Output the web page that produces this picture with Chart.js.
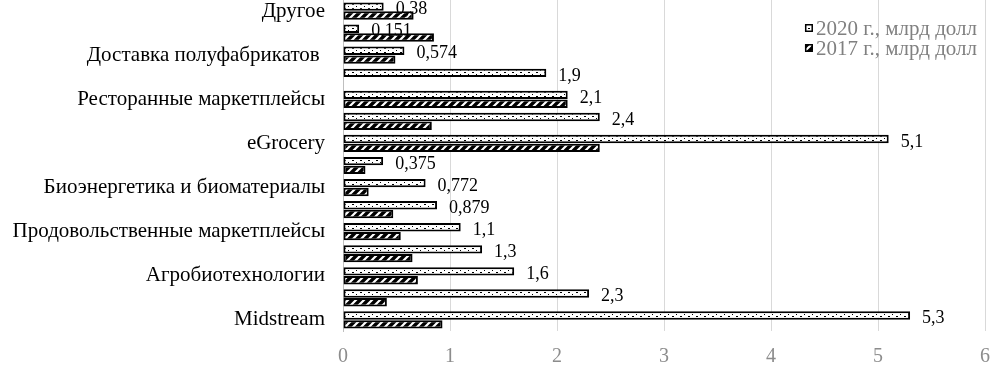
<!DOCTYPE html>
<html>
<head>
<meta charset="utf-8">
<script src="https://cdn.jsdelivr.net/npm/chart.js@4"></script>
<style>
    html, body { margin: 0; padding: 0; background: #fff; }
    #wrap { width: 1002px; height: 370px; }
</style>
</head>
<body>
<div id="wrap"><canvas id="chart" width="1002" height="370"></canvas></div>
<script>
// data ===================================
const categories = [
    'Другое', '', 'Доставка полуфабрикатов ', '', 'Ресторанные маркетплейсы', '',
    'eGrocery', '', 'Биоэнергетика и биоматериалы', '', 'Продовольственные маркетплейсы', '',
    'Агробиотехнологии', '', 'Midstream'
];
const values2020 = [0.38, 0.151, 0.574, 1.9, 2.1, 2.4, 5.1, 0.375, 0.772, 0.879, 1.1, 1.3, 1.6, 2.3, 5.3];
const values2017 = [0.66, 0.85, 0.49, null, 2.1, 0.83, 2.4, 0.21, 0.24, 0.47, 0.54, 0.65, 0.70, 0.41, 0.93];
const labels2020 = ['0,38', '0,151', '0,574', '1,9', '2,1', '2,4', '5,1', '0,375', '0,772', '0,879', '1,1', '1,3', '1,6', '2,3', '5,3'];
const seriesNames = ['2020 г., млрд долл', '2017 г., млрд долл'];
const xTicks = [0, 1, 2, 3, 4, 5, 6];

const FONT = '"Liberation Serif", "Times New Roman", serif';

// patterns
function dotPattern() {
    const c = document.createElement('canvas');
    c.width = 8; c.height = 4;
    const g = c.getContext('2d');
    g.fillStyle = '#fff';
    g.fillRect(0, 0, 8, 4);
    g.fillStyle = '#000';
    g.fillRect(0, 0, 2, 1);
    g.fillRect(4, 2, 1, 1);
    return g.createPattern(c, 'repeat');
}

function hatchPattern() {
    const c = document.createElement('canvas');
    c.width = 8; c.height = 8;
    const g = c.getContext('2d');
    g.fillStyle = '#000';
    g.fillRect(0, 0, 8, 8);
    g.strokeStyle = '#fff';
    g.lineWidth = 2.2;
    g.beginPath();
    g.moveTo(-1, 9); g.lineTo(9, -1);
    g.moveTo(-2, 2); g.lineTo(2, -2);
    g.moveTo(6, 10); g.lineTo(10, 6);
    g.stroke();
    return g.createPattern(c, 'repeat');
}

const fills = [dotPattern(), hatchPattern()];

// value labels at the end of 2020 bars
const valueLabels = {
    id: 'valueLabels',
    afterDatasetsDraw(chart) {
        const ctx = chart.ctx;
        const meta = chart.getDatasetMeta(0);
        ctx.save();
        ctx.font = '18px ' + FONT;
        ctx.fillStyle = '#000';
        ctx.textAlign = 'left';
        ctx.textBaseline = 'middle';
        meta.data.forEach((bar, i) => {
            ctx.fillText(labels2020[i], bar.x + 12, bar.y + 3);
        });
        ctx.restore();
    }
};

// legend in upper right corner
const cornerLegend = {
    id: 'cornerLegend',
    afterDraw(chart) {
        const ctx = chart.ctx;
        const right = chart.chartArea.right - 8;
        ctx.save();
        ctx.font = '21px ' + FONT;
        ctx.textBaseline = 'middle';
        seriesNames.forEach((name, i) => {
            const y = 28 + i * 20;
            const w = ctx.measureText(name).width;
            const tx = right - w;
            ctx.fillStyle = fills[i];
            ctx.fillRect(tx - 11, y - 4, 8, 8);
            ctx.strokeStyle = '#000';
            ctx.lineWidth = 1.5;
            ctx.strokeRect(tx - 10.25, y - 3.25, 6.5, 6.5);
            ctx.fillStyle = '#808080';
            ctx.fillText(name, tx, y + 1);
        });
        ctx.restore();
    }
};

const ctx = document.getElementById('chart').getContext('2d');
new Chart(ctx, {
    type: 'bar',
    data: {
        labels: categories,
        datasets: [
            {
                label: seriesNames[0],
                data: values2020,
                backgroundColor: fills[0],
                borderColor: '#000',
                borderWidth: 2,
                borderSkipped: false,
                categoryPercentage: 0.8,
                barPercentage: 0.95
            },
            {
                label: seriesNames[1],
                data: values2017,
                backgroundColor: fills[1],
                borderColor: '#000',
                borderWidth: 2,
                borderSkipped: false,
                categoryPercentage: 0.8,
                barPercentage: 0.95
            }
        ]
    },
    options: {
        indexAxis: 'y',
        responsive: false,
        animation: false,
        layout: { padding: { top: 0, right: 17, bottom: 0, left: 0 } },
        plugins: {
            legend: { display: false },
            tooltip: { enabled: false }
        },
        scales: {
            x: {
                min: 0,
                max: 6,
                afterBuildTicks(axis) {
                    axis.ticks = xTicks.map(v => ({ value: v }));
                },
                afterFit(axis) {
                    axis.height = 39;
                    axis.paddingLeft = 0;
                    axis.paddingRight = 0;
                },
                grid: { color: '#d9d9d9', lineWidth: 1, drawTicks: false },
                border: { display: false },
                ticks: {
                    color: '#8c8c8c',
                    padding: 14,
                    font: { family: FONT, size: 20 }
                }
            },
            y: {
                afterFit(axis) {
                    axis.width = 343;
                    axis.paddingTop = 0;
                    axis.paddingBottom = 0;
                },
                grid: { display: false, drawTicks: false },
                border: { display: true, color: '#bfbfbf', width: 1, dash: [2, 1] },
                ticks: {
                    autoSkip: false,
                    color: '#000',
                    padding: 18,
                    font: { family: FONT, size: 21 }
                }
            }
        }
    },
    plugins: [valueLabels, cornerLegend]
});
</script>
</body>
</html>
